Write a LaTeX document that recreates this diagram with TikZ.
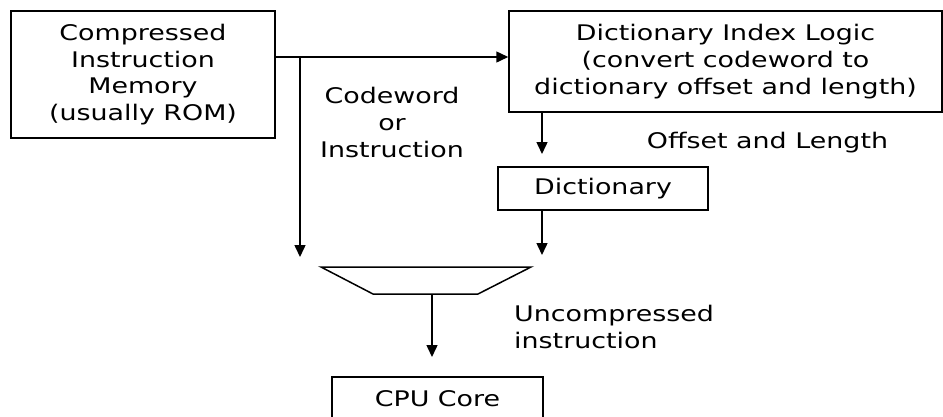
\documentclass[tikz,border=0pt]{standalone}
\usepackage{fontspec}
\setmainfont{DejaVu Sans}[FakeStretch=1.25]
\usetikzlibrary{arrows.meta}
\tikzset{
  blk/.style={draw, line width=1.5pt, align=center, inner sep=0pt},
  arr/.style={-{Triangle[length=12pt,width=11pt]}, line width=1.5pt},
  lbl/.style={inner sep=0pt},
}
\begin{document}
\begin{tikzpicture}[x=1pt,y=-1pt,font=\fontsize{21.5}{26.7}\selectfont]
    \clip (0,0) rectangle (943,416);
    %Boxes
    \node[blk, minimum width=264pt, minimum height=127pt] (mem) at (143,74.5) {Compressed\\Instruction\\Memory\\(usually ROM)};
    \node[blk, minimum width=433pt, minimum height=101pt] (idx) at (725.5,61.5) {Dictionary Index Logic\\(convert codeword to\\dictionary offset and length)};
    \node[blk, minimum width=210pt, minimum height=43pt] (dict) at (603,188.5) {Dictionary};
    \node[blk, minimum width=211pt, minimum height=43pt] (cpu) at (437.5,398.5) {CPU Core};
    %Mux
    \draw[line width=1.5pt] (321,267) -- (531,267) -- (478,294) -- (373,294) -- cycle;
    \coordinate (mux) at (432,294);
    %Free ends
    \coordinate (split) at (300,57);
    \coordinate (muxl) at (300,257);
    \coordinate (muxr) at (542,255);
    \coordinate (offs) at (542,154);
    \coordinate (cpuin) at (432,357);
    %Arrows
    \draw[line width=1.5pt] (mem.east |- split) -- (split);
    \draw[arr] (split) -- (split -| idx.west);
    \draw[arr] (split) -- (muxl);
    \draw[arr] (idx.south -| offs) -- (offs);
    \draw[arr] (dict.south -| muxr) -- (muxr);
    \draw[arr] (mux) -- (cpuin);
    %Labels
    \node[lbl, align=center, anchor=base] (cw) at (392,157) {Codeword\\or\\Instruction};
    \node[lbl, anchor=base] (ol) at (767.5,148) {Offset and Length};
    \node[lbl, align=left, anchor=base west] (ui) at (514,348) {Uncompressed\\instruction};
\end{tikzpicture}
\end{document}
